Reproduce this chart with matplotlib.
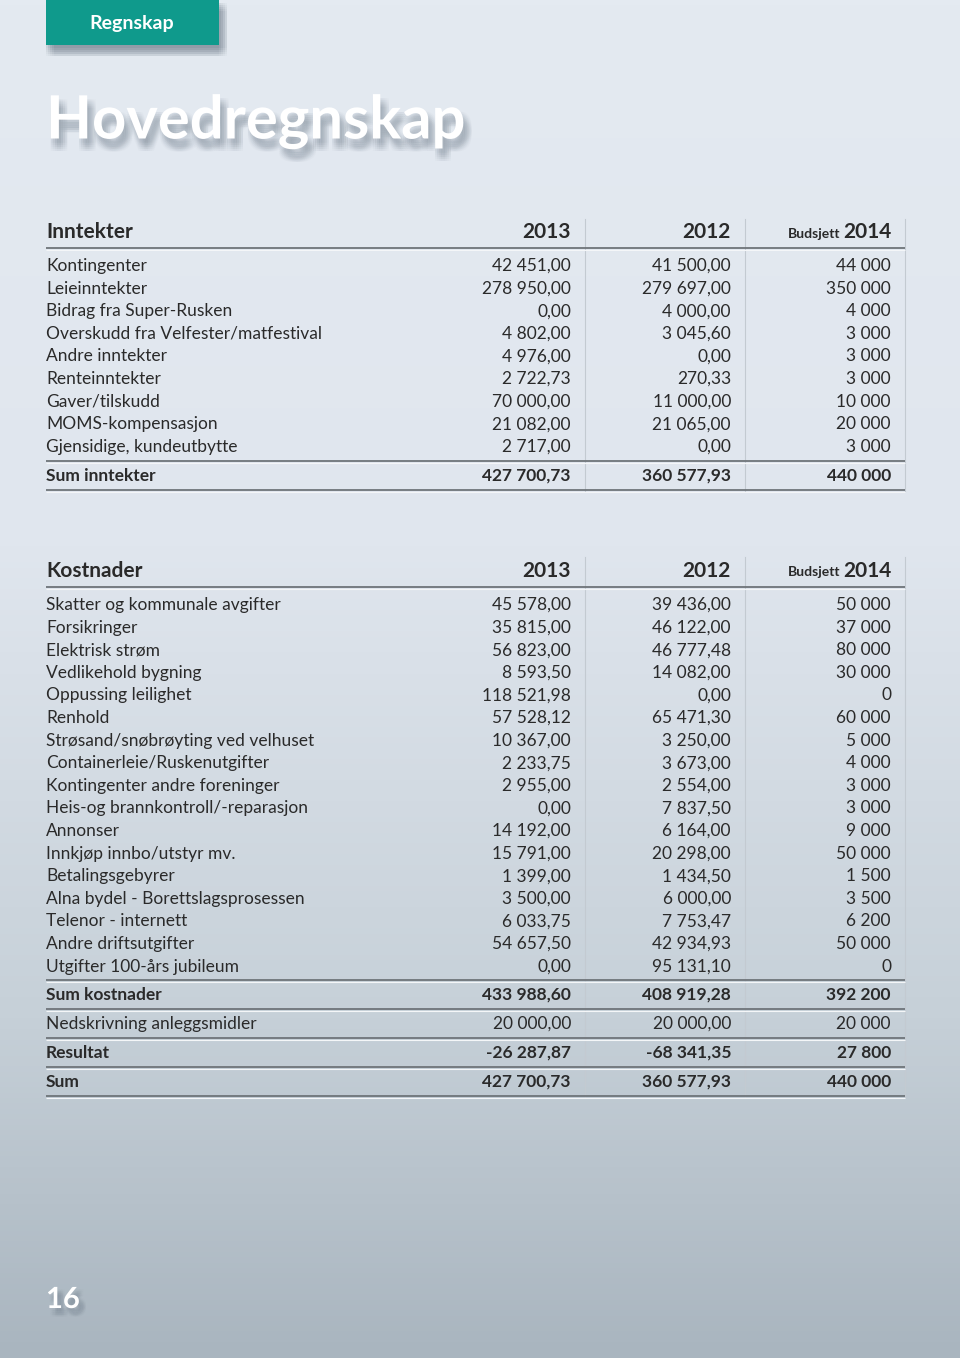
import matplotlib
matplotlib.use("Agg")
import matplotlib.pyplot as plt
import matplotlib.patheffects as pe
import numpy as np
from matplotlib.colors import LinearSegmentedColormap

plt.rcParams['font.family'] = ['Lato', 'DejaVu Sans']

# ---- data ----
years = ["2013", "2012", "2014"]

inntekter_labels = ["Kontingenter", "Leieinntekter", "Bidrag fra Super-Rusken",
                    "Overskudd fra Velfester/matfestival", "Andre inntekter",
                    "Renteinntekter", "Gaver/tilskudd", "MOMS-kompensasjon",
                    "Gjensidige, kundeutbytte"]
inntekter_2013 = ["42 451,00", "278 950,00", "0,00", "4 802,00", "4 976,00",
                  "2 722,73", "70 000,00", "21 082,00", "2 717,00"]
inntekter_2012 = ["41 500,00", "279 697,00", "4 000,00", "3 045,60", "0,00",
                  "270,33", "11 000,00", "21 065,00", "0,00"]
inntekter_b2014 = ["44 000", "350 000", "4 000", "3 000", "3 000", "3 000",
                   "10 000", "20 000", "3 000"]
sum_inntekter = ["Sum inntekter", "427 700,73", "360 577,93", "440 000"]

kostnader_labels = ["Skatter og kommunale avgifter", "Forsikringer", "Elektrisk strøm",
                    "Vedlikehold bygning", "Oppussing leilighet", "Renhold",
                    "Strøsand/snøbrøyting ved velhuset", "Containerleie/Ruskenutgifter",
                    "Kontingenter andre foreninger", "Heis-og brannkontroll/-reparasjon",
                    "Annonser", "Innkjøp innbo/utstyr mv.", "Betalingsgebyrer",
                    "Alna bydel - Borettslagsprosessen", "Telenor - internett",
                    "Andre driftsutgifter", "Utgifter 100-års jubileum"]
kostnader_2013 = ["45 578,00", "35 815,00", "56 823,00", "8 593,50", "118 521,98",
                  "57 528,12", "10 367,00", "2 233,75", "2 955,00", "0,00",
                  "14 192,00", "15 791,00", "1 399,00", "3 500,00", "6 033,75",
                  "54 657,50", "0,00"]
kostnader_2012 = ["39 436,00", "46 122,00", "46 777,48", "14 082,00", "0,00",
                  "65 471,30", "3 250,00", "3 673,00", "2 554,00", "7 837,50",
                  "6 164,00", "20 298,00", "1 434,50", "6 000,00", "7 753,47",
                  "42 934,93", "95 131,10"]
kostnader_b2014 = ["50 000", "37 000", "80 000", "30 000", "0", "60 000", "5 000",
                   "4 000", "3 000", "3 000", "9 000", "50 000", "1 500", "3 500",
                   "6 200", "50 000", "0"]
bottom_rows = [
    ("Sum kostnader", "433 988,60", "408 919,28", "392 200", True),
    ("Nedskrivning anleggsmidler", "20 000,00", "20 000,00", "20 000", False),
    ("Resultat", "-26 287,87", "-68 341,35", "27 800", True),
    ("Sum", "427 700,73", "360 577,93", "440 000", True),
]

# ---- figure ----
fig = plt.figure(figsize=(9.6, 13.58), dpi=100)
ax = fig.add_axes([0, 0, 1, 1])
ax.set_xlim(0, 960)
ax.set_ylim(1358, 0)
ax.axis("off")

# background gradient
bg = LinearSegmentedColormap.from_list(
    "bg", [(0, "#e4eaf1"), (0.4, "#e0e6ee"), (0.75, "#c6d0d8"), (1, "#a9b5bf")])
grad = np.linspace(0, 1, 256).reshape(-1, 1)
ax.imshow(grad, cmap=bg, extent=[0, 960, 1358, 0], aspect="auto", zorder=0)


def soft_shadow(dx, dy, spread, alpha=0.035):
    # fake blur: many faint shadow copies inside one artist's path effects
    effects = []
    for ox in np.linspace(-spread, spread, 5):
        for oy in np.linspace(-spread, spread, 5):
            effects.append(pe.SimplePatchShadow(offset=(dx + ox, -(dy + oy)),
                                                shadow_rgbFace="#7d8a97", alpha=alpha))
    return effects + [pe.Normal()]


# tab with soft shadow
tab = plt.Rectangle((46, 0), 173, 45, color="#0f9a8c", lw=0, zorder=2)
tab.set_path_effects(soft_shadow(3, 5, 3, alpha=0.05))
ax.add_patch(tab)
ax.text(132, 23, "Regnskap", color="white", fontsize=14, fontweight="bold",
        ha="center", va="center", zorder=3)

# title
ax.text(46, 122, "Hovedregnskap", color="white", fontsize=43, fontweight="bold",
        ha="left", va="center", zorder=3, path_effects=soft_shadow(3, 6, 3))

# page number
ax.text(46, 1300, "16", color="white", fontsize=21, fontweight="bold",
        ha="left", va="center", zorder=3, path_effects=soft_shadow(3, 4, 2))

x_label, x_cols = 46, [571, 731, 891]
x_seps = [585, 745]
x_left, x_right = 46, 905
row_h = 22.6
fs = 12.5
txt = "#2a2a2a"


def hline(y):
    ax.plot([x_left, x_right], [y, y], color="#6e7479", lw=1.3, zorder=2,
            solid_capstyle="butt")
    ax.plot([x_left, x_right], [y + 1.5, y + 1.5], color="#f4f6f8", lw=0.8, zorder=2,
            solid_capstyle="butt")


def header(y, title):
    ax.text(x_label, y, title, fontsize=15, fontweight="bold", color=txt,
            ha="left", va="center", zorder=3)
    for xc, yr in zip(x_cols, years):
        ax.text(xc, y, yr, fontsize=15, fontweight="bold", color=txt,
                ha="right", va="center", zorder=3)
    ax.text(x_cols[2] - 51, y + 1.5, "Budsjett", fontsize=10, fontweight="bold",
            color=txt, ha="right", va="center", zorder=3)


def row(y, cells, bold=False):
    w = "bold" if bold else "normal"
    ax.text(x_label, y, cells[0], fontsize=fs, fontweight=w, color=txt,
            ha="left", va="center", zorder=3)
    for xc, c in zip(x_cols, cells[1:]):
        ax.text(xc, y, c, fontsize=fs, fontweight=w, color=txt,
                ha="right", va="center", zorder=3)


def vlines(y0, y1):
    for xs in x_seps + [x_right]:
        ax.plot([xs, xs], [y0, y1], color="#c3cad1", lw=0.8, zorder=1)


# ---- Inntekter ----
header(232, "Inntekter")
hline(248)
for i, lab in enumerate(inntekter_labels):
    row(266 + i * row_h, [lab, inntekter_2013[i], inntekter_2012[i], inntekter_b2014[i]])
hline(461)
row(476, sum_inntekter, bold=True)
hline(490)
vlines(219, 491)

# ---- Kostnader ----
header(571, "Kostnader")
hline(587)
for i, lab in enumerate(kostnader_labels):
    row(605 + i * row_h, [lab, kostnader_2013[i], kostnader_2012[i], kostnader_b2014[i]])
hline(980)
for y, (lab, a, b, c, bold) in zip([995, 1024, 1053, 1082], bottom_rows):
    row(y, [lab, a, b, c], bold=bold)
    hline(y + 14)
vlines(557, 1097)

fig.savefig("out.png", dpi=100)
